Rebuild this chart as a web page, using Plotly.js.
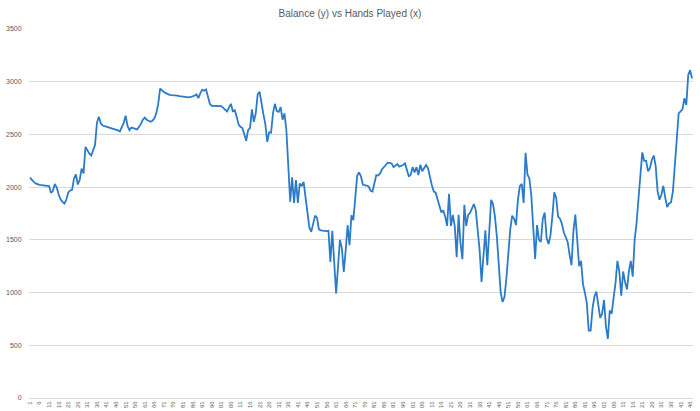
<!DOCTYPE html>
<html>
<head>
<meta charset="utf-8">
<script src="https://cdn.plot.ly/plotly-3.0.1.min.js"></script>
<style>
  html, body { margin: 0; padding: 0; background: #ffffff; }
  #chart { width: 700px; height: 411px; }
</style>
</head>
<body>
<div id="chart"></div>
<script>
// Balance after each hand
const balance = [
  2090,2065,2050,2035,2025,2022,2020,2018,2015,2012,
  2010,1946,1965,2030,1995,1930,1885,1860,1845,1880,
  1950,1968,1975,2080,2120,2025,2070,2175,2130,2380,
  2342,2320,2300,2350,2400,2610,2668,2604,2585,2578,
  2573,2568,2562,2557,2552,2545,2538,2528,2570,2610,
  2677,2580,2541,2566,2560,2550,2547,2573,2600,2640,
  2660,2640,2628,2620,2630,2650,2700,2785,2935,2915,
  2903,2892,2883,2876,2873,2873,2873,2868,2864,2861,
  2858,2855,2852,2851,2855,2860,2868,2880,2845,2890,
  2925,2915,2927,2860,2790,2772,2772,2772,2772,2770,
  2768,2752,2735,2718,2755,2790,2720,2730,2670,2595,
  2572,2560,2505,2440,2540,2560,2737,2620,2700,2880,
  2905,2780,2690,2600,2430,2520,2516,2700,2790,2722,
  2715,2760,2640,2700,2540,2200,1861,2092,1851,2066,
  1851,2035,2009,2050,1908,1780,1620,1576,1650,1730,
  1710,1600,1590,1586,1584,1582,1586,1291,1586,1275,
  991,1250,1500,1420,1196,1402,1639,1449,1734,1687,
  1908,2110,2139,2100,2022,2020,2015,2006,1965,1959,
  2040,2115,2110,2130,2170,2192,2215,2232,2230,2225,
  2190,2205,2220,2195,2200,2210,2225,2150,2100,2120,
  2190,2140,2190,2115,2212,2150,2178,2210,2180,2080,
  2020,1960,1948,1885,1820,1760,1780,1720,1633,1937,
  1633,1737,1627,1335,1737,1468,1316,1832,1633,1737,
  1755,1790,1840,1780,1600,1400,1100,1330,1590,1260,
  1560,1880,1840,1720,1530,1290,1000,910,960,1140,
  1380,1600,1730,1700,1640,1880,2010,2030,1851,2326,
  2120,2080,1920,1600,1320,1640,1500,1480,1700,1760,
  1520,1460,1540,1720,1950,1900,1720,1700,1650,1570,
  1530,1480,1360,1260,1580,1740,1500,1250,1300,1080,
  1000,900,640,640,850,965,1010,900,760,800,
  930,680,560,830,800,950,1090,1300,1200,970,
  1200,1100,1030,1200,1300,1150,1500,1660,1850,2110,
  2330,2250,2250,2150,2180,2260,2300,2200,1960,1880,
  1930,2013,1900,1810,1845,1855,1960,2260,2450,2700,
  2720,2738,2842,2779,3063,3110,3030
];

// Hand numbers (category axis)
const hands = balance.map((_, i) => i + 1);

// Category tick positions and their labels as they appear in the picture
const tickVals = [1,6,11,16,21,26,31,36,41,46,51,56,61,66,71,76,81,86,91,96,
  101,106,111,116,121,126,131,136,141,146,151,156,161,166,171,176,181,186,191,196,
  201,206,211,216,221,226,231,236,241,246,251,256,261,266,271,276,281,286,291,296,
  301,306,311,316,321,326,331,336,341,346];
const tickText = ["1","6","11","16","21","26","31","36","41","46","51","56","61","66","71","76","81","86","91","96",
  "01","06","11","16","21","26","31","36","41","46","51","56","61","66","71","76","81","86","91","96",
  "01","06","11","16","21","26","31","36","41","46","51","56","61","66","71","76","81","86","91","96",
  "01","06","11","16","21","26","31","36","41","46"];

const yTicks = [0,500,1000,1500,2000,2500,3000,3500];

const FONT = "'Liberation Sans', Arial, sans-serif";
const GREY = "#595959";

const trace = {
  x: hands,
  y: balance,
  type: "scatter",
  mode: "lines",
  line: { color: "#2b7bc9", width: 1.8 },
  hoverinfo: "x+y"
};

const layout = {
  width: 700,
  height: 411,
  margin: { l: 29, r: 7, t: 29, b: 13, pad: 0 },
  paper_bgcolor: "#ffffff",
  plot_bgcolor: "#ffffff",
  showlegend: false,
  title: {
    text: "Balance (y) vs Hands Played (x)",
    font: { family: FONT, size: 10, color: GREY },
    x: 0.5, xref: "container", xanchor: "center",
    y: 1 - 13 / 411, yref: "container", yanchor: "middle"
  },
  xaxis: {
    type: "linear",
    range: [0.5, balance.length + 0.5],
    tickmode: "array",
    tickvals: tickVals,
    ticktext: tickText,
    tickangle: -90,
    tickfont: { family: FONT, size: 6, color: GREY },
    ticks: "",
    ticklabelstandoff: 0,
    showgrid: false,
    zeroline: false,
    showline: true,
    linecolor: "#d9d9d9",
    linewidth: 1,
    automargin: false,
    fixedrange: true
  },
  yaxis: {
    range: [0, 3500],
    tickmode: "array",
    tickvals: yTicks,
    ticktext: yTicks.map(String),
    tickfont: { family: FONT, size: 7, color: GREY },
    ticks: "outside",
    ticklen: 5,
    tickcolor: "rgba(0,0,0,0)",
    showgrid: true,
    gridcolor: "#d9d9d9",
    gridwidth: 1,
    zeroline: false,
    showline: false,
    automargin: false,
    fixedrange: true
  }
};

Plotly.newPlot("chart", [trace], layout, { displayModeBar: false, staticPlot: true });
</script>
</body>
</html>
